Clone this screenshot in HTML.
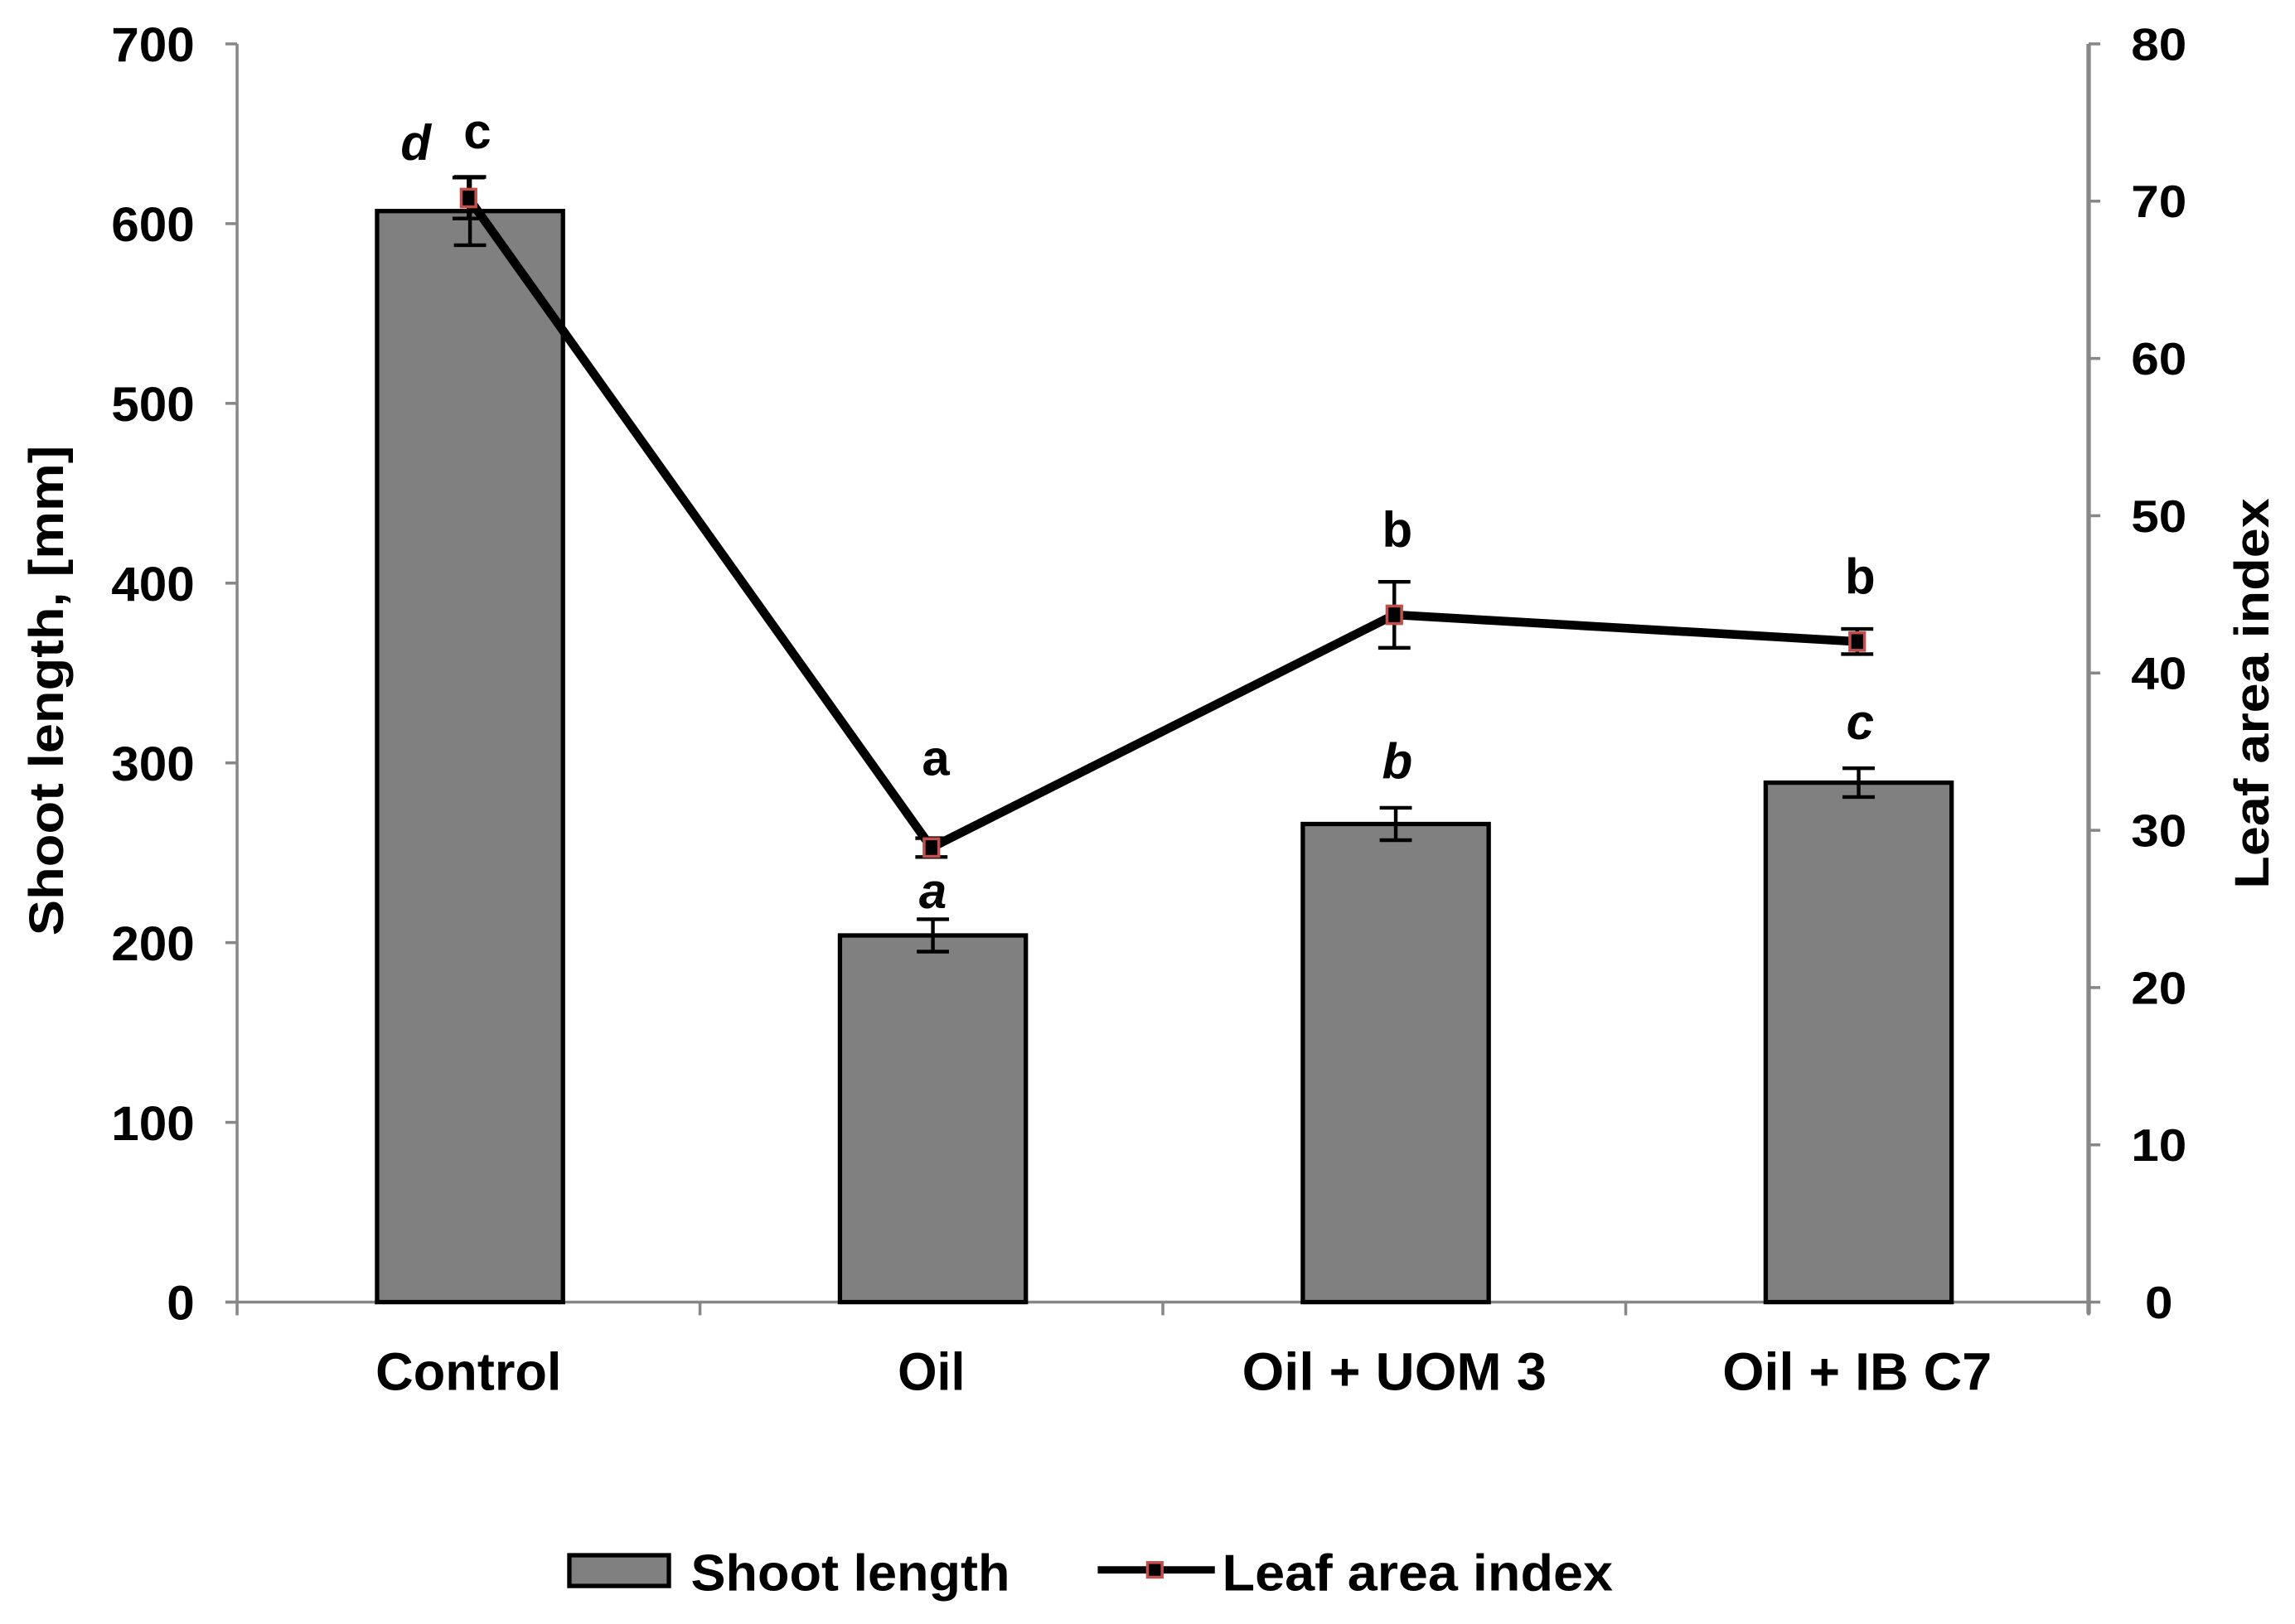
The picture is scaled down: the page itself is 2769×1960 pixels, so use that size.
<!DOCTYPE html>
<html><head><meta charset="utf-8"><style>
html,body{margin:0;padding:0;background:#fff;}
svg{display:block;}
text{font-family:"Liberation Sans",Arial,sans-serif;font-weight:bold;fill:#000;}
</style></head><body>
<svg id="chart" width="2769" height="1960" viewBox="0 0 1568 1110" preserveAspectRatio="none" xmlns="http://www.w3.org/2000/svg">
<g id="axes"></g>
<g id="bars"></g>
<g id="line"></g>
<text transform="translate(43,472) rotate(-90)" text-anchor="middle" font-size="33" textLength="335" lengthAdjust="spacingAndGlyphs">Shoot length, [mm]</text>
<text transform="translate(1550,474) rotate(-90)" text-anchor="middle" font-size="33" textLength="267" lengthAdjust="spacingAndGlyphs">Leaf area index</text>
<g>
  <rect x="389" y="1063" width="68" height="21" fill="#808080" stroke="#000" stroke-width="3"/>
  <text x="472" y="1087" font-size="35" textLength="218" lengthAdjust="spacingAndGlyphs">Shoot length</text>
  <line x1="750" y1="1073" x2="830" y2="1073" stroke="#000" stroke-width="5"/>
  <rect x="784" y="1068" width="10" height="10" fill="#000" stroke="#c0504d" stroke-width="2"/>
  <text x="835" y="1087" font-size="35" textLength="267" lengthAdjust="spacingAndGlyphs">Leaf area index</text>
</g>
</svg>
<script>
const categories = ["Control", "Oil", "Oil + UOM 3", "Oil + IB C7"];
const shootLength = [607, 204, 266, 289];
const shootErr = [19, 9, 9, 8];
const leafArea = [70.2, 28.9, 43.7, 42.0];
const leafErr = [1.3, 0.6, 2.1, 0.8];
const shootLetters = ["d", "a", "b", "c"];
const leafLetters = ["c", "a", "b", "b"];
const leftTicks = [0, 100, 200, 300, 400, 500, 600, 700];
const rightTicks = [0, 10, 20, 30, 40, 50, 60, 70, 80];

const NS = "http://www.w3.org/2000/svg";
const X0 = 162, X1 = 1427, Y0 = 890, YT = 30;
const yL = v => Y0 - (v / 700) * (Y0 - YT);
const yR = v => Y0 - (v / 80) * (Y0 - YT);
const band = (X1 - X0) / categories.length;
const xC = i => X0 + band * (i + 0.5);
function mk(tag, attrs, parent, txt) {
  const e = document.createElementNS(NS, tag);
  for (const k in attrs) e.setAttribute(k, attrs[k]);
  if (txt !== undefined) e.textContent = txt;
  parent.appendChild(e);
  return e;
}
const axes = document.getElementById("axes");
const bars = document.getElementById("bars");
const line = document.getElementById("line");
const grey = "#878787";
const digitW = 19;

let e = mk("line", {x1: X0, y1: YT, x2: X0, y2: Y0, stroke: grey, "stroke-width": 2}, axes);


e = mk("line", {x1: X1, y1: YT, x2: X1, y2: Y0 + 8, stroke: grey, "stroke-width": 3}, axes);


e = mk("line", {x1: X0 - 8, y1: Y0, x2: X1, y2: Y0, stroke: grey, "stroke-width": 2}, axes);



leftTicks.forEach(v => {
  const y = yL(v);
  let t = mk("line", {x1: X0 - 8, y1: y, x2: X0, y2: y, stroke: grey, "stroke-width": 2}, axes);
  
  
  const s = String(v);
  t = mk("text", {x: 133, y: y + 12, "text-anchor": "end", "font-size": 33, textLength: s.length * digitW, lengthAdjust: "spacingAndGlyphs"}, axes, s);
  
  
});
rightTicks.forEach(v => {
  const y = yR(v);
  let t = mk("line", {x1: X1, y1: y, x2: X1 + 8, y2: y, stroke: grey, "stroke-width": 2}, axes);
  
  
  const s = String(v);
  t = mk("text", {x: 1475, y: y + 11, "text-anchor": "middle", "font-size": 31, textLength: s.length * digitW, lengthAdjust: "spacingAndGlyphs"}, axes, s);
  
  
});
for (let i = 0; i <= categories.length; i++) {
  const x = X0 + band * i;
  const t = mk("line", {x1: x, y1: Y0, x2: x, y2: Y0 + 9, stroke: grey, "stroke-width": 2}, axes);
  
  
}
const catW = [127, 46, 208, 184];
categories.forEach((c, i) => {
  const t = mk("text", {x: xC(i), y: 950, "text-anchor": "middle", "font-size": 36, textLength: catW[i], lengthAdjust: "spacingAndGlyphs"}, axes, c);
  
  
});

const BW = 127;
shootLength.forEach((v, i) => {
  const x = xC(i) + 1, y = yL(v);
  const r = mk("rect", {x: x - BW / 2, y: y, width: BW, height: Y0 - y, fill: "#808080", stroke: "#000", "stroke-width": 3}, bars);
  
  
  const yt = yL(v + shootErr[i]), yb = yL(v - shootErr[i]);
  const g = mk("path", {d: `M${x},${yt}V${yb}M${x - 11},${yt}H${x + 11}M${x - 11},${yb}H${x + 11}`, stroke: "#000", "stroke-width": 2.5, fill: "none"}, bars);
  
  
});

let pts = leafArea.map((v, i) => `${xC(i)},${yR(v)}`).join(" ");
e = mk("polyline", {points: pts, fill: "none", stroke: "#000", "stroke-width": 6, "stroke-linejoin": "miter"}, line);


leafArea.forEach((v, i) => {
  const x = xC(i), y = yR(v);
  const yt = yR(v + leafErr[i]), yb = yR(v - leafErr[i]);
  const g = mk("path", {d: `M${x},${yt}V${yb}M${x - 11},${yt}H${x + 11}M${x - 11},${yb}H${x + 11}`, stroke: "#000", "stroke-width": 2.5, fill: "none"}, line);
  
  
  const m = mk("rect", {x: x - 5, y: y - 6, width: 10, height: 12, fill: "#000", stroke: "#c0504d", "stroke-width": 2}, line);
  
  
});

const leafDx = [6, 3, 2, 2];
const leafDy = [-20, -43, -24, -24];
leafLetters.forEach((l, i) => {
  const y = yR(leafArea[i] + leafErr[i]) + leafDy[i];
  const t = mk("text", {x: xC(i) + leafDx[i], y: y, "text-anchor": "middle", "font-size": 34}, line, l);
  
  
});
const shootDx = [-36, 1, 2, 2];
shootLetters.forEach((l, i) => {
  let y;
  if (i === 0) y = yR(leafArea[i] + leafErr[i]) - 12;
  else if (i === 1) y = yR(leafArea[i] - leafErr[i]) + 35;
  else y = yL(shootLength[i] + shootErr[i]) - 20;
  const t = mk("text", {x: xC(i) + shootDx[i], y: y, "text-anchor": "middle", "font-size": 34, "font-style": "italic"}, bars, l);
  
  
});
</script>
</body></html>
